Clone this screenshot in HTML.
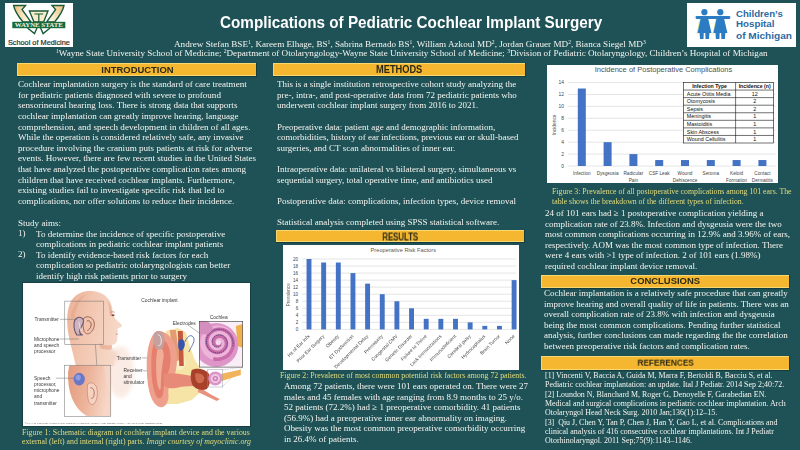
<!DOCTYPE html>
<html><head><meta charset="utf-8">
<style>
*{margin:0;padding:0;box-sizing:border-box}
html,body{width:800px;height:450px;overflow:hidden}
body{background:#1f5257;position:relative;-webkit-font-smoothing:antialiased;font-family:"Liberation Serif",serif;color:#f6f6f2}
.a{position:absolute}
.t{position:absolute;will-change:transform;font-family:"Liberation Serif",serif;font-size:9px;line-height:10.5px;white-space:pre;color:#f4f4ef}
.bar{position:absolute;background:#f4b72f;border-top:1px solid #f8d872;border-bottom:1px solid #f8d872;border-left:0.8px solid #f6d670;box-shadow:0 0 0.5px 0.5px rgba(8,35,30,0.45);font-family:"Liberation Sans",sans-serif;font-weight:bold;color:#2c2a16;text-align:center;font-size:9.26px;letter-spacing:0}
.bar span{display:inline-block;position:relative;will-change:transform}
.cap{position:absolute;will-change:transform;font-family:"Liberation Serif",serif;font-size:7.8px;white-space:pre;color:#e4dc7c}
.sp{position:relative;top:-3.4px;font-size:5.6px;line-height:0}
.wbox{position:absolute;background:#fff}
</style></head><body>

<!-- Wayne State logo -->
<div class="wbox" style="left:5px;top:3px;width:68px;height:44px"></div>
<svg class="a" style="left:5px;top:3px" width="68" height="44" viewBox="0 0 68 44">
  <defs><linearGradient id="wg" x1="0" y1="0" x2="1" y2="0.3"><stop offset="0" stop-color="#efb877"/><stop offset="0.5" stop-color="#f6dcae"/><stop offset="1" stop-color="#fdf6e8"/></linearGradient>
  <linearGradient id="wg2" x1="1" y1="0" x2="0" y2="0.3"><stop offset="0" stop-color="#efb877"/><stop offset="0.5" stop-color="#f6dcae"/><stop offset="1" stop-color="#fdf6e8"/></linearGradient></defs>
  <g transform="translate(-5,-3)" stroke="#165a38" stroke-width="1.35" stroke-linejoin="miter">
    <path d="M13.6 5.5 L25.6 5.5 L22 9.5 L31 22 L23 22 C18 16 14.5 10 13.6 5.5 Z" fill="url(#wg)"/>
    <path d="M64 5.5 L52 5.5 L55.6 9.5 L46.6 22 L54.6 22 C59.6 16 63.1 10 64 5.5 Z" fill="url(#wg2)"/>
    <path d="M29.4 11 L48 11 L43.6 22 L34 22 Z" fill="#f8eccc"/>
    <path d="M34.4 14 L43.2 14 M38.8 14 L38.8 22" fill="none" stroke-width="1.2"/>
    <path d="M27.5 28 L34.5 33.6 L37 28" fill="#fff"/>
    <path d="M40.6 28 L43.1 33.6 L50.1 28" fill="#fff"/>
  </g>
  <rect x="7.3" y="18.8" width="53" height="6.4" fill="#176a3e"/>
  <text x="33.8" y="24.4" text-anchor="middle" font-family="Liberation Serif" font-weight="bold" font-size="6.2" fill="#eef0e0" textLength="48" lengthAdjust="spacingAndGlyphs">WAYNE STATE</text>
  <text x="33.9" y="41.9" text-anchor="middle" font-family="Liberation Sans" font-size="6.4" fill="#1e2a28" stroke="#1e2a28" stroke-width="0.15" textLength="62" lengthAdjust="spacingAndGlyphs">School of Medicine</text>
</svg>

<!-- Children's Hospital logo -->
<div class="wbox" style="left:687px;top:3px;width:109px;height:43.5px"></div>
<svg class="a" style="left:687px;top:3px" width="109" height="44" viewBox="0 0 109 44">
  <g stroke="#cfe07a" stroke-width="0.9" opacity="0.9"><line x1="10" y1="31" x2="13.5" y2="15"/><line x1="26" y1="31" x2="29.5" y2="15"/></g>
  <g stroke="#9fd0ef" stroke-width="0.8" opacity="0.8"><line x1="7.5" y1="14" x2="44" y2="14"/></g>
  <g fill="#2b7cc2">
    <rect x="8.7" y="13.1" width="34.5" height="2.8" rx="1"/>
    <circle cx="17.4" cy="9.2" r="3.1"/>
    <circle cx="33.3" cy="9.2" r="3.1"/>
    <path d="M14 14 L20.8 14 L24.5 30 L10.5 30 Z"/>
    <path d="M29.9 14 L36.7 14 L40.4 30 L26.4 30 Z"/>
    <path d="M12.5 29 L16.8 29 L16.5 36 L13 36 Z"/><path d="M18.2 29 L22.5 29 L22 36 L18.5 36 Z"/>
    <path d="M28.4 29 L32.7 29 L32.4 36 L28.9 36 Z"/><path d="M34.1 29 L38.4 29 L37.9 36 L34.4 36 Z"/>
  </g>
  <g font-family="Liberation Sans" font-weight="bold" font-size="9.6" fill="#2d6aa3">
    <text x="49" y="13.7" textLength="46.8" lengthAdjust="spacingAndGlyphs">Children’s</text>
    <text x="49" y="24" textLength="38.5" lengthAdjust="spacingAndGlyphs">Hospital</text>
    <text x="49" y="35.8" textLength="56" lengthAdjust="spacingAndGlyphs">of Michigan</text>
  </g>
</svg>

<!-- Title -->
<div class="a" style="left:219.5px;top:13.9px;font-family:'Liberation Sans',sans-serif;font-weight:bold;font-size:15.25px;line-height:18px;color:#fff;white-space:pre;will-change:transform;transform:scaleY(1.04);transform-origin:0 14px">Complications of Pediatric Cochlear Implant Surgery</div>
<div class="t" style="left:174.2px;top:39.2px;font-size:9.15px">Andrew Stefan BSE<span class="sp">1</span>, Kareem Elhage, BS<span class="sp">1</span>, Sabrina Bernado BS<span class="sp">1</span>, William Azkoul MD<span class="sp">2</span>, Jordan Grauer MD<span class="sp">2</span>, Bianca Siegel MD<span class="sp">3</span></div>
<div class="t" style="left:55.6px;top:48px;font-size:9.1px"><span class="sp">1</span>Wayne State University School of Medicine; <span class="sp">2</span>Department of Otolaryngology-Wayne State University School of Medicine; <span class="sp">3</span>Division of Pediatric Otolaryngology, Children’s Hospital of Michigan</div>

<!-- Section bars -->
<div class="bar" style="left:17px;top:62.5px;width:239px;height:13.1px;line-height:11px"><span style="top:1.3px;transform:scale(1.02,1.06)">INTRODUCTION</span></div>
<div class="bar" style="left:273px;top:62.5px;width:251.5px;height:13.1px;line-height:11px"><span style="top:1.3px;transform:scale(1,1.08)">METHODS</span></div>
<div class="bar" style="left:275.5px;top:230.2px;width:248px;height:11.8px;line-height:10px"><span style="top:0.5px;transform:scale(0.84,1.1)">RESULTS</span></div>
<div class="bar" style="left:541px;top:274.6px;width:248px;height:13px;line-height:11.2px"><span style="top:0.3px;transform:scale(1.02,1.04)">CONCLUSIONS</span></div>
<div class="bar" style="left:541px;top:356.2px;width:248px;height:13.4px;line-height:11.6px"><span style="top:1.2px;transform:scale(0.89,1.06)">REFERENCES</span></div>

<!-- Intro text -->
<div class="t" style="left:17.8px;top:78.7px;font-size:9.08px;line-height:10.64px">Cochlear implantation surgery is the standard of care treatment
for pediatric patients diagnosed with severe to profound
sensorineural hearing loss. There is strong data that supports
cochlear implantation can greatly improve hearing, language
comprehension, and speech development in children of all ages.
While the operation is considered relatively safe, any invasive
procedure involving the cranium puts patients at risk for adverse
events. However, there are few recent studies in the United States
that have analyzed the postoperative complication rates among
children that have received cochlear implants. Furthermore,
existing studies fail to investigate specific risk that led to
complications, nor offer solutions to reduce their incidence.</div>
<div class="t" style="left:17.8px;top:218.4px;font-size:9.05px;line-height:10.45px">Study aims:
1)
 
2)</div>
<div class="t" style="left:36.1px;top:228.9px;font-size:9.05px;line-height:10.45px">To determine the incidence of specific postoperative
complications in pediatric cochlear implant patients
To identify evidence-based risk factors for each
complication so pediatric otolaryngologists can better
identify high risk patients prior to surgery</div>

<!-- Figure 1 image -->
<div class="wbox" style="left:23px;top:282.5px;width:226.7px;height:143.3px;box-shadow:0 0 0.6px 0.6px rgba(8,35,30,0.4)"></div>
<svg class="a" style="left:23.2px;top:283px" width="227" height="143" viewBox="0 0 227 143" id="fig1">
<defs>
<filter id="bl" x="-10%" y="-10%" width="120%" height="120%"><feGaussianBlur stdDeviation="0.55"/></filter>
<filter id="bl2" x="-30%" y="-30%" width="160%" height="160%"><feGaussianBlur stdDeviation="2"/></filter>
<linearGradient id="skinA" x1="0" y1="0" x2="1" y2="0.3"><stop offset="0" stop-color="#eab095"/><stop offset="0.45" stop-color="#f2c6b0"/><stop offset="1" stop-color="#f6d8c8"/></linearGradient>
<linearGradient id="skinB" x1="0" y1="0" x2="1" y2="0.2"><stop offset="0" stop-color="#e29a7e"/><stop offset="0.55" stop-color="#edb59c"/><stop offset="1" stop-color="#f6d6c6"/></linearGradient>
</defs>
<g transform="translate(-23.2,-283)">
<!-- shoulder glow -->
<ellipse cx="121" cy="372" rx="13" ry="26" fill="#faebe4" filter="url(#bl2)"/>
<ellipse cx="98" cy="356" rx="20" ry="10" fill="#f4d4c4" filter="url(#bl2)"/>
<!-- upper head -->
<g filter="url(#bl)">
<path d="M76 366 C74 356 71 346 69 336 C66.5 323 66.5 309 72 300 C77 293 84 290.8 91 291 C100 291.5 107 295 110.5 302 C112.5 306 112.8 310 113 314 C114 317 116 320 119 322 C121.5 324 123 325.5 121.5 327 C120 328 118 328 117.5 329.5 C118.5 331 118 333 117 334 C118 336 117.5 338 117.5 340 C117 343 115 344.5 112 345 C111.5 350 112 356 114 362 L115 366 Z" fill="url(#skinA)"/>
<path d="M71 318 C72 306 78 297 88 293.5 C81 298 76 306 75 318 Z" fill="#e39d82" opacity="0.45"/>
<path d="M108 300 C111 305 112 311 112.5 315 L110 316 C110 310 109 305 108 300 Z" fill="#e6a78e" opacity="0.7"/>
<path d="M112 345 C108 346 103 345 100 343 L100 348 C104 350 109 350 112 349 Z" fill="#e2a48b" opacity="0.6"/>
<ellipse cx="113.2" cy="315.3" rx="1.6" ry="1" fill="#8a4a3a"/>
<path d="M110.5 312.5 C112 311.5 114 311.6 115 312.4" stroke="#b87a66" stroke-width="0.7" fill="none"/>
<path d="M116 334.2 L118.2 334" stroke="#b0604f" stroke-width="0.6"/>
<!-- ear upper -->
<path d="M84 318 C88 315.5 93 317 94.3 322 C95.3 327 93 331.5 89.5 333.5 C87 334.5 84.5 333 84 330 C83 326 83 321 84 318 Z" fill="#f2c2ac" stroke="#94604f" stroke-width="0.9"/>
<path d="M87 321 C89.5 320 91.5 322 91.3 325 C91 328.5 89 330 87.5 330.5" stroke="#8a5545" stroke-width="0.9" fill="none"/>
<!-- transmitter -->
<path d="M76.5 318.5 C79 316.5 83 317 83.7 320.5 C84.2 324 81 327 80 330 C79.5 332.5 81 334.5 83 335 L77 335 C75 332 74 328 74.2 324 C74.3 321.5 75 319.5 76.5 318.5 Z" fill="#cdb3bd" stroke="#6c5670" stroke-width="1.1"/>
<path d="M79 322 L81 331" stroke="#f0e6f0" stroke-width="0.8"/>
</g>
<!-- lower inset skin -->
<g filter="url(#bl)">
<path d="M69.5 365.5 L111 365.5 L111 416 L87 416 C80 412 75 405 72 398 C69 390 67.8 380 68.3 372 Z" fill="url(#skinB)"/>
<path d="M104 366 C106 380 108 395 111 405 L111 366 Z" fill="#f5d6c7" opacity="0.8"/>
<path d="M88 384 C92 381 97 384 97.5 391 C98 398 96 403 93 404.5 C90 405 88.5 401.5 88 397 C87.5 392 87 388 88 384 Z" fill="#f6d2c0" stroke="#c7836d" stroke-width="0.7"/>
<path d="M90.5 388 C93 387 94.8 390 94.3 394.5 C93.8 398 92.2 399 91 398" stroke="#a86a57" stroke-width="0.9" fill="none"/>
</g>
<ellipse cx="79.4" cy="379.1" rx="5.7" ry="6.3" fill="#6977c6" filter="url(#bl)"/>
<ellipse cx="78.4" cy="377.6" rx="2.6" ry="2.8" fill="#8f9ce0" filter="url(#bl)"/>
<!-- boxes and leader lines -->
<g stroke="#6e6e6e" stroke-width="0.5" fill="none">
<rect x="65" y="301.1" width="38.9" height="43.4"/>
<rect x="64.8" y="365.2" width="46.2" height="51.1"/>
<line x1="60" y1="319.3" x2="77" y2="319.3"/>
<line x1="60" y1="339" x2="79" y2="339"/>
<line x1="95.6" y1="344.5" x2="97" y2="365.2"/>
<line x1="56" y1="378.2" x2="74" y2="378.2"/>
<line x1="142" y1="357.9" x2="153" y2="357.9"/>
<line x1="143" y1="370.8" x2="170" y2="370.8"/>
<line x1="188" y1="325" x2="199.6" y2="333"/>
<line x1="222.3" y1="370" x2="242.9" y2="367.1" stroke-dasharray="0.8,0.8" stroke="#8888aa"/>
<line x1="222.3" y1="386.8" x2="242.9" y2="367.1" stroke-dasharray="0.8,0.8" stroke="#8888aa"/>
</g>
<!-- right: ear -->
<g filter="url(#bl)">
<!-- yellow bone -->
<path d="M166 331 L178 328 L186 332 L190 346 L195 360 L201 369 L203 390 L192 400 L178 404 L166 404 L164 390 L170 376 L168 360 L170 345 Z" fill="#f6e3a6"/>
<path d="M174 352 C180 350 186 356 186 364 C184 370 178 372 174 368 Z" fill="#f9edc4"/>
<!-- skin+skull layers -->
<path d="M170 330 L176 330 L180 360 L174 362 Z" fill="#e49a72"/>
<path d="M178 331 L183 331 L184 366 L179.5 366 Z" fill="#c4593f"/>
<!-- pinna -->
<path d="M157 331 C151 335 148 345 147 360 C146.5 375 148 390 152 399 C155 405 159 408 163 407 C167 405.5 169.5 400 168.5 393 C168 388 171 383 174 377 C178 368 178 355 175 345 C172 337 166 330 157 331 Z" fill="#efa08c"/>
<path d="M157 338 C153 343 151.5 352 151.5 364 C151.5 378 153 390 157 397 C160 400 163 398 163.5 392 C164 386 165 380 168 374 C171 366 172 356 169 347 C166 340 161 336 157 338 Z" fill="#e5806e"/>
<path d="M158 348 C156 356 156 368 157 380 C158 388 160 392 161 388 C161 378 162 366 164 356 C164 350 161 345 158 348 Z" fill="#f1ad98"/>
<!-- transmitter disc -->
<path d="M154.5 333 C157.5 330 162.5 331 164 335 C165.5 340 164.5 346 162 349 C159 351 155.5 349 154.5 345 C153.5 341 153 336 154.5 333 Z" fill="#c4a09e"/>
<path d="M158 335 C160 334.5 161.5 337 161.5 341 C161.5 344 160 346 158.5 345.5" stroke="#f3ece8" stroke-width="1" fill="none"/>
<!-- canal -->
<path d="M164 374 C172 372 182 374 192 376 L200 379 L199 386 C192 386 184 386 176 388 C170 389 165 388 164 384 Z" fill="#e88a78"/>
<path d="M199 387 L212 395 L220 399 L217 401 L198 392 Z" fill="#e8937e"/>
<!-- middle ear -->
<path d="M192 370 C197 367.5 205 369 208.5 373 C211.5 377.5 210.5 385 207 389 C202 391 196 389.5 193 385.5 C190.5 381 190.5 374 192 370 Z" fill="#a8402a"/>
<path d="M195.5 373.5 C199 372.5 203.5 374 204.5 377.5 C204.5 381.5 202 384 198.5 383 C196 382 195 378 195.5 373.5 Z" fill="#cf6a50"/>
<!-- small cochlea -->
<circle cx="215.5" cy="378.5" r="7" fill="#da94c6"/>
<circle cx="215.5" cy="378.5" r="4.6" fill="#f1c6e3"/>
<circle cx="215.5" cy="378.5" r="2.6" fill="#c978b3"/>
<circle cx="215.5" cy="378.5" r="1.2" fill="#f1c6e3"/>
<!-- nerve -->
<path d="M221 374 L241 369.5 L241 375 L222 381 Z" fill="#f1b45c"/>
<!-- implant -->
<path d="M179 340 C182 338 185 340 185 344 C185 348.5 182 351.5 180 350.5 C178 348.5 178 343 179 340 Z" fill="#3954ab"/>
</g>
<path d="M185 342 C188 335 192 334 194 338 C195.5 342 191 347 189 352" stroke="#3d5ab0" stroke-width="0.8" fill="none"/>
<rect x="208" y="369.5" width="15" height="17.5" fill="none" stroke="#9090a8" stroke-width="0.45"/>
<!-- cochlea inset -->
<rect x="199.6" y="321.3" width="43.3" height="45.8" fill="#f9eef5"/>
<clipPath id="cbox"><rect x="199.6" y="321.3" width="43.3" height="45.8"/></clipPath>
<g clip-path="url(#cbox)">
<g filter="url(#bl)">
<path d="M236 326 L243 324 L243 348 L238 346 Z" fill="#f0b04c"/>
<circle cx="216.5" cy="345" r="22" fill="#de96c8"/>
<circle cx="218" cy="343" r="17.5" fill="#eeb5da"/>
<path d="M219.93 342.94 L219.99 343.16 L220.01 343.40 L220.00 343.65 L219.95 343.91 L219.85 344.17 L219.72 344.42 L219.54 344.67 L219.32 344.90 L219.06 345.10 L218.76 345.28 L218.43 345.42 L218.07 345.52 L217.68 345.57 L217.28 345.57 L216.86 345.52 L216.44 345.41 L216.03 345.25 L215.63 345.03 L215.24 344.74 L214.89 344.41 L214.57 344.01 L214.29 343.57 L214.07 343.09 L213.90 342.57 L213.80 342.01 L213.76 341.43 L213.80 340.84 L213.91 340.24 L214.10 339.65 L214.36 339.07 L214.71 338.51 L215.12 337.99 L215.61 337.51 L216.17 337.09 L216.78 336.73 L217.45 336.44 L218.16 336.23 L218.91 336.10 L219.68 336.07 L220.47 336.13 L221.26 336.29 L222.03 336.54 L222.79 336.90 L223.51 337.35 L224.18 337.89 L224.79 338.52 L225.33 339.23 L225.79 340.02 L226.16 340.86 L226.42 341.76 L226.58 342.70 L226.63 343.67 L226.56 344.65 L226.38 345.63 L226.07 346.60 L225.64 347.53 L225.09 348.42 L224.44 349.25 L223.67 350.01 L222.82 350.68 L221.87 351.25 L220.85 351.71 L219.77 352.05 L218.64 352.27 L217.48 352.34 L216.30 352.28 L215.12 352.08 L213.96 351.73 L212.84 351.24 L211.77 350.61 L210.77 349.85 L209.85 348.97 L209.04 347.97 L208.34 346.88 L207.78 345.69 L207.35 344.43 L207.07 343.11 L206.95 341.76 L206.99 340.38 L207.20 339.00 L207.57 337.65 L208.10 336.33 L208.80 335.07 L209.64 333.89 L210.64 332.81 L211.76 331.84 L213.00 331.01 L214.35 330.32 L215.78 329.79 L217.29 329.43 L218.83 329.25 L220.41 329.25 L221.98 329.44 L223.54 329.82 L225.06 330.39 L226.51 331.14 L227.88 332.06 L229.13 333.15 L230.27 334.39 L231.25 335.77 L232.07 337.27 L232.72 338.87 L233.18 340.55 L233.43 342.29 L233.48 344.06 L233.32 345.84 L232.95 347.60 L232.36 349.32 L231.57 350.97 L230.59 352.53 L229.41 353.98 L228.07 355.28 L226.56 356.43 L224.92 357.40 L223.16 358.18 L221.31 358.74 L219.39 359.09 L217.42 359.21 L215.44 359.09 L213.48 358.74" fill="none" stroke="#c96ca9" stroke-width="3.6"/>
<circle cx="218.5" cy="342.5" r="2.6" fill="#f6d6eb"/>
<path d="M199 321 C205 319 212 322 213 328 C212 334 205 336 200 333 Z" fill="#d58fbf"/>
</g>
<path d="M220.99 345.63 L220.71 345.94 L220.40 346.23 L220.06 346.48 L219.68 346.71 L219.27 346.89 L218.84 347.04 L218.38 347.14 L217.91 347.20 L217.43 347.20 L216.93 347.16 L216.44 347.07 L215.95 346.92 L215.47 346.72 L215.01 346.47 L214.56 346.16 L214.15 345.81 L213.76 345.41 L213.41 344.96 L213.11 344.48 L212.85 343.95 L212.64 343.40 L212.49 342.82 L212.40 342.22 L212.37 341.60 L212.40 340.97 L212.49 340.34 L212.65 339.72 L212.88 339.10 L213.17 338.51 L213.53 337.93 L213.95 337.39 L214.42 336.89 L214.95 336.44 L215.53 336.03 L216.16 335.68 L216.83 335.39 L217.53 335.17 L218.26 335.02 L219.01 334.94 L219.77 334.94 L220.54 335.02 L221.31 335.17 L222.06 335.40 L222.80 335.71 L223.51 336.10 L224.18 336.57 L224.81 337.10 L225.39 337.70 L225.92 338.37 L226.38 339.09 L226.76 339.86 L227.07 340.67 L227.30 341.52 L227.45 342.40 L227.51 343.30 L227.47 344.21 L227.35 345.11 L227.13 346.02 L226.82 346.90 L226.42 347.75 L225.93 348.57 L225.35 349.34 L224.70 350.06 L223.96 350.71 L223.16 351.30 L222.30 351.80 L221.39 352.22 L220.42 352.55 L219.42 352.78 L218.40 352.92 L217.35 352.95 L216.30 352.87 L215.26 352.69 L214.22 352.40 L213.22 352.01 L212.25 351.51 L211.32 350.91 L210.46 350.22 L209.66 349.44 L208.93 348.58 L208.30 347.64 L207.75 346.63 L207.30 345.57 L206.96 344.46 L206.74 343.31 L206.62 342.13 L206.63 340.94 L206.75 339.75 L206.99 338.57 L207.36 337.41 L207.84 336.28 L208.44 335.20 L209.14 334.17 L209.95 333.22 L210.86 332.34 L211.86 331.56 L212.94 330.87 L214.09 330.29 L215.31 329.82 L216.57 329.48 L217.87 329.26 L219.19 329.17 L220.53 329.21 L221.86 329.39 L223.17 329.70 L224.46 330.15 L225.71 330.72 L226.90 331.42 L228.02 332.24 L229.06 333.18 L230.01 334.22 L230.85 335.36 L231.58 336.58 L232.19 337.88 L232.67 339.25 L233.02 340.66 L233.22 342.11 L233.28 343.58 L233.19 345.05 L232.95 346.53" fill="none" stroke="#3c3f75" stroke-width="0.85" stroke-dasharray="1.4,0.8"/>
</g>
<rect x="199.6" y="321.3" width="43.3" height="45.8" fill="none" stroke="#3a3a3a" stroke-width="0.6"/>
<!-- labels -->
<g font-family="Liberation Sans" font-size="4.85" fill="#3a3a3a">
<text x="34.7" y="320.9">Transmitter</text>
<text x="34.3" y="340.6">Microphone</text>
<text x="34.3" y="346.9">and speech</text>
<text x="34.3" y="353.2">processor</text>
<text x="34.3" y="379.8">Speech</text>
<text x="34.3" y="386">processor,</text>
<text x="34.3" y="392.2">microphone</text>
<text x="34.3" y="398.4">and</text>
<text x="34.3" y="404.6">transmitter</text>
<text x="141.5" y="302.3">Cochlear implant</text>
<text x="117" y="359.5">Transmitter</text>
<text x="123.7" y="372.4">Receiver</text>
<text x="123.7" y="378.1">and</text>
<text x="123.7" y="384.1">stimulator</text>
<text x="173" y="325">Electrodes</text>
<text x="210" y="319">Cochlea</text>
</g>
<text x="25" y="424.3" font-family="Liberation Sans" font-size="2.3" fill="#777" textLength="138" lengthAdjust="spacingAndGlyphs">©MAYO FOUNDATION FOR MEDICAL EDUCATION AND RESEARCH. ALL RIGHTS RESERVED.</text>
</g>

</svg>
<div class="cap" style="left:21.7px;top:428.8px;line-height:8.7px"><span style="letter-spacing:0.045px">Figure 1: Schematic diagram of cochlear implant device and the various</span>
external (left) and internal (right) parts. <i>Image courtesy of mayoclinic.org</i></div>

<!-- Methods text -->
<div class="t" style="left:276.5px;top:78.5px">This is a single institution retrospective cohort study analyzing the
pre-, intra-, and post-operative data from 72 pediatric patients who
underwent cochlear implant surgery from 2016 to 2021.</div>
<div class="t" style="left:276.5px;top:121.5px;line-height:10.4px">Preoperative data: patient age and demographic information,
comorbidities, history of ear infections, previous ear or skull-based
surgeries, and CT scan abnormalities of inner ear.</div>
<div class="t" style="left:276.5px;top:163.5px;line-height:10.6px">Intraoperative data: unilateral vs bilateral surgery, simultaneous vs
sequential surgery, total operative time, and antibiotics used</div>
<div class="t" style="left:276.5px;top:195.5px">Postoperative data: complications, infection types, device removal</div>
<div class="t" style="left:276.5px;top:217.2px">Statistical analysis completed using SPSS statistical software.</div>

<!-- Chart 2 -->
<div class="wbox" style="left:283px;top:245.2px;width:236.2px;height:124.8px"></div>
<svg class="a" style="left:283px;top:245.2px" width="237" height="125" viewBox="0 0 237 125" id="ch2">
<text x="120.3" y="7.1" text-anchor="middle" font-family="Liberation Sans" font-size="5.7" fill="#595959">Preoperative Risk Factors</text>
<line x1="18.8" x2="233" y1="84.40" y2="84.40" stroke="#d4d4d4" stroke-width="0.6"/>
<text x="15.2" y="86.00" text-anchor="end" font-family="Liberation Sans" font-size="4.6" fill="#444">0</text>
<line x1="18.8" x2="233" y1="77.36" y2="77.36" stroke="#d4d4d4" stroke-width="0.6"/>
<text x="15.2" y="78.96" text-anchor="end" font-family="Liberation Sans" font-size="4.6" fill="#444">2</text>
<line x1="18.8" x2="233" y1="70.32" y2="70.32" stroke="#d4d4d4" stroke-width="0.6"/>
<text x="15.2" y="71.92" text-anchor="end" font-family="Liberation Sans" font-size="4.6" fill="#444">4</text>
<line x1="18.8" x2="233" y1="63.28" y2="63.28" stroke="#d4d4d4" stroke-width="0.6"/>
<text x="15.2" y="64.88" text-anchor="end" font-family="Liberation Sans" font-size="4.6" fill="#444">6</text>
<line x1="18.8" x2="233" y1="56.24" y2="56.24" stroke="#d4d4d4" stroke-width="0.6"/>
<text x="15.2" y="57.84" text-anchor="end" font-family="Liberation Sans" font-size="4.6" fill="#444">8</text>
<line x1="18.8" x2="233" y1="49.20" y2="49.20" stroke="#d4d4d4" stroke-width="0.6"/>
<text x="15.2" y="50.80" text-anchor="end" font-family="Liberation Sans" font-size="4.6" fill="#444">10</text>
<line x1="18.8" x2="233" y1="42.16" y2="42.16" stroke="#d4d4d4" stroke-width="0.6"/>
<text x="15.2" y="43.76" text-anchor="end" font-family="Liberation Sans" font-size="4.6" fill="#444">12</text>
<line x1="18.8" x2="233" y1="35.12" y2="35.12" stroke="#d4d4d4" stroke-width="0.6"/>
<text x="15.2" y="36.72" text-anchor="end" font-family="Liberation Sans" font-size="4.6" fill="#444">14</text>
<line x1="18.8" x2="233" y1="28.08" y2="28.08" stroke="#d4d4d4" stroke-width="0.6"/>
<text x="15.2" y="29.68" text-anchor="end" font-family="Liberation Sans" font-size="4.6" fill="#444">16</text>
<line x1="18.8" x2="233" y1="21.04" y2="21.04" stroke="#d4d4d4" stroke-width="0.6"/>
<text x="15.2" y="22.64" text-anchor="end" font-family="Liberation Sans" font-size="4.6" fill="#444">18</text>
<line x1="18.8" x2="233" y1="14.00" y2="14.00" stroke="#d4d4d4" stroke-width="0.6"/>
<text x="15.2" y="15.60" text-anchor="end" font-family="Liberation Sans" font-size="4.6" fill="#444">20</text>
<text transform="translate(6.6,49.8) rotate(-90)" text-anchor="middle" font-family="Liberation Sans" font-size="4.6" fill="#595959">Prevalence</text>
<rect x="23.55" y="14.00" width="4.9" height="70.40" fill="#4472c4"/>
<text transform="translate(27.00,91.60) rotate(-45)" text-anchor="end" font-family="Liberation Sans" font-size="4.8" fill="#4a4a4a">Hx of Ear Infx</text>
<rect x="38.20" y="17.52" width="4.9" height="66.88" fill="#4472c4"/>
<text transform="translate(41.65,91.60) rotate(-45)" text-anchor="end" font-family="Liberation Sans" font-size="4.8" fill="#4a4a4a">Prior Ear Surgery</text>
<rect x="52.85" y="17.52" width="4.9" height="66.88" fill="#4472c4"/>
<text transform="translate(56.30,91.60) rotate(-45)" text-anchor="end" font-family="Liberation Sans" font-size="4.8" fill="#4a4a4a">Obesity</text>
<rect x="67.50" y="28.08" width="4.9" height="56.32" fill="#4472c4"/>
<text transform="translate(70.95,91.60) rotate(-45)" text-anchor="end" font-family="Liberation Sans" font-size="4.8" fill="#4a4a4a">ET Dysfunction</text>
<rect x="82.15" y="38.64" width="4.9" height="45.76" fill="#4472c4"/>
<text transform="translate(85.60,91.60) rotate(-45)" text-anchor="end" font-family="Liberation Sans" font-size="4.8" fill="#4a4a4a">Developmental Delay</text>
<rect x="96.80" y="49.20" width="4.9" height="35.20" fill="#4472c4"/>
<text transform="translate(100.25,91.60) rotate(-45)" text-anchor="end" font-family="Liberation Sans" font-size="4.8" fill="#4a4a4a">Prematurity</text>
<rect x="111.45" y="56.24" width="4.9" height="28.16" fill="#4472c4"/>
<text transform="translate(114.90,91.60) rotate(-45)" text-anchor="end" font-family="Liberation Sans" font-size="4.8" fill="#4a4a4a">Congenital CMV</text>
<rect x="126.10" y="63.28" width="4.9" height="21.12" fill="#4472c4"/>
<text transform="translate(129.55,91.60) rotate(-45)" text-anchor="end" font-family="Liberation Sans" font-size="4.8" fill="#4a4a4a">Genetic Disorder</text>
<rect x="140.75" y="73.84" width="4.9" height="10.56" fill="#4472c4"/>
<text transform="translate(144.20,91.60) rotate(-45)" text-anchor="end" font-family="Liberation Sans" font-size="4.8" fill="#4a4a4a">Failure to Thrive</text>
<rect x="155.40" y="73.84" width="4.9" height="10.56" fill="#4472c4"/>
<text transform="translate(158.85,91.60) rotate(-45)" text-anchor="end" font-family="Liberation Sans" font-size="4.8" fill="#4a4a4a">Lack Immunizations</text>
<rect x="170.05" y="73.84" width="4.9" height="10.56" fill="#4472c4"/>
<text transform="translate(173.50,91.60) rotate(-45)" text-anchor="end" font-family="Liberation Sans" font-size="4.8" fill="#4a4a4a">Immunodeficient</text>
<rect x="184.70" y="77.36" width="4.9" height="7.04" fill="#4472c4"/>
<text transform="translate(188.15,91.60) rotate(-45)" text-anchor="end" font-family="Liberation Sans" font-size="4.8" fill="#4a4a4a">Cerebral palsy</text>
<rect x="199.35" y="80.88" width="4.9" height="3.52" fill="#4472c4"/>
<text transform="translate(202.80,91.60) rotate(-45)" text-anchor="end" font-family="Liberation Sans" font-size="4.8" fill="#4a4a4a">Hydrocephalus</text>
<rect x="214.00" y="80.88" width="4.9" height="3.52" fill="#4472c4"/>
<text transform="translate(217.45,91.60) rotate(-45)" text-anchor="end" font-family="Liberation Sans" font-size="4.8" fill="#4a4a4a">Brain Tumor</text>
<rect x="228.65" y="35.12" width="4.9" height="49.28" fill="#4472c4"/>
<text transform="translate(232.10,91.60) rotate(-45)" text-anchor="end" font-family="Liberation Sans" font-size="4.8" fill="#4a4a4a">None</text>
</svg>
<div class="cap" style="left:280px;top:371.5px;line-height:8.7px">Figure 2: Prevalence of most common potential risk factors among 72 patients.</div>

<!-- Results text -->
<div class="t" style="left:284px;top:381.4px;line-height:10.6px">Among 72 patients, there were 101 ears operated on. There were 27
males and 45 females with age ranging from 8.9 months to 25 y/o.
52 patients (72.2%) had ≥ 1 preoperative comorbidity. 41 patients
(56.9%) had a preoperative inner ear abnormality on imaging.
Obesity was the most common preoperative comorbidity occurring
in 26.4% of patients.</div>

<!-- Chart 3 -->
<div class="wbox" style="left:546.8px;top:64.7px;width:231.7px;height:118.8px"></div>
<svg class="a" style="left:546.8px;top:64.7px" width="232" height="119" viewBox="0 0 232 119" id="ch3">
<text x="47.7" y="7.4" font-family="Liberation Sans" font-size="7.5" fill="#505050">Incidence of Postoperative Complications</text>
<line x1="21.4" x2="228.5" y1="101.00" y2="101.00" stroke="#d4d4d4" stroke-width="0.6"/>
<text x="17" y="102.70" text-anchor="end" font-family="Liberation Sans" font-size="4.9" fill="#444">0</text>
<line x1="21.4" x2="228.5" y1="89.08" y2="89.08" stroke="#d4d4d4" stroke-width="0.6"/>
<text x="17" y="90.78" text-anchor="end" font-family="Liberation Sans" font-size="4.9" fill="#444">2</text>
<line x1="21.4" x2="228.5" y1="77.16" y2="77.16" stroke="#d4d4d4" stroke-width="0.6"/>
<text x="17" y="78.86" text-anchor="end" font-family="Liberation Sans" font-size="4.9" fill="#444">4</text>
<line x1="21.4" x2="228.5" y1="65.24" y2="65.24" stroke="#d4d4d4" stroke-width="0.6"/>
<text x="17" y="66.94" text-anchor="end" font-family="Liberation Sans" font-size="4.9" fill="#444">6</text>
<line x1="21.4" x2="228.5" y1="53.32" y2="53.32" stroke="#d4d4d4" stroke-width="0.6"/>
<text x="17" y="55.02" text-anchor="end" font-family="Liberation Sans" font-size="4.9" fill="#444">8</text>
<line x1="21.4" x2="228.5" y1="41.40" y2="41.40" stroke="#d4d4d4" stroke-width="0.6"/>
<text x="17" y="43.10" text-anchor="end" font-family="Liberation Sans" font-size="4.9" fill="#444">10</text>
<line x1="21.4" x2="228.5" y1="29.48" y2="29.48" stroke="#d4d4d4" stroke-width="0.6"/>
<text x="17" y="31.18" text-anchor="end" font-family="Liberation Sans" font-size="4.9" fill="#444">12</text>
<line x1="21.4" x2="228.5" y1="17.56" y2="17.56" stroke="#d4d4d4" stroke-width="0.6"/>
<text x="17" y="19.26" text-anchor="end" font-family="Liberation Sans" font-size="4.9" fill="#444">14</text>
<text transform="translate(9.3,59.9) rotate(-90)" text-anchor="middle" font-family="Liberation Sans" font-size="4.9" fill="#595959">Incidence</text>
<rect x="30.80" y="23.52" width="8" height="77.48" fill="#4472c4"/>
<text x="34.80" y="109.60" text-anchor="middle" font-family="Liberation Sans" font-size="4.7" fill="#444">Infection</text>
<rect x="56.60" y="77.16" width="8" height="23.84" fill="#4472c4"/>
<text x="60.60" y="109.60" text-anchor="middle" font-family="Liberation Sans" font-size="4.7" fill="#444">Dysgeusia</text>
<rect x="82.40" y="89.08" width="8" height="11.92" fill="#4472c4"/>
<text x="86.40" y="109.60" text-anchor="middle" font-family="Liberation Sans" font-size="4.7" fill="#444">Radicular</text>
<text x="86.40" y="116.50" text-anchor="middle" font-family="Liberation Sans" font-size="4.7" fill="#444">Pain</text>
<rect x="108.20" y="95.04" width="8" height="5.96" fill="#4472c4"/>
<text x="112.20" y="109.60" text-anchor="middle" font-family="Liberation Sans" font-size="4.7" fill="#444">CSF Leak</text>
<rect x="134.00" y="95.04" width="8" height="5.96" fill="#4472c4"/>
<text x="138.00" y="109.60" text-anchor="middle" font-family="Liberation Sans" font-size="4.7" fill="#444">Wound</text>
<text x="138.00" y="116.50" text-anchor="middle" font-family="Liberation Sans" font-size="4.7" fill="#444">Dehiscence</text>
<rect x="159.80" y="95.04" width="8" height="5.96" fill="#4472c4"/>
<text x="163.80" y="109.60" text-anchor="middle" font-family="Liberation Sans" font-size="4.7" fill="#444">Seroma</text>
<rect x="185.60" y="95.04" width="8" height="5.96" fill="#4472c4"/>
<text x="189.60" y="109.60" text-anchor="middle" font-family="Liberation Sans" font-size="4.7" fill="#444">Keloid</text>
<text x="189.60" y="116.50" text-anchor="middle" font-family="Liberation Sans" font-size="4.7" fill="#444">Formation</text>
<rect x="211.40" y="95.04" width="8" height="5.96" fill="#4472c4"/>
<text x="215.40" y="109.60" text-anchor="middle" font-family="Liberation Sans" font-size="4.7" fill="#444">Contact</text>
<text x="215.40" y="116.50" text-anchor="middle" font-family="Liberation Sans" font-size="4.7" fill="#444">Dermatitis</text>
<rect x="136.5" y="17.5" width="90.20" height="60.50" fill="#fff" stroke="#111" stroke-width="0.6"/>
<line x1="188.6" x2="188.6" y1="17.5" y2="78.0" stroke="#111" stroke-width="0.6"/>
<line x1="136.5" x2="226.7" y1="25.06" y2="25.06" stroke="#111" stroke-width="0.6"/>
<line x1="136.5" x2="226.7" y1="32.62" y2="32.62" stroke="#111" stroke-width="0.6"/>
<line x1="136.5" x2="226.7" y1="40.19" y2="40.19" stroke="#111" stroke-width="0.6"/>
<line x1="136.5" x2="226.7" y1="47.75" y2="47.75" stroke="#111" stroke-width="0.6"/>
<line x1="136.5" x2="226.7" y1="55.31" y2="55.31" stroke="#111" stroke-width="0.6"/>
<line x1="136.5" x2="226.7" y1="62.88" y2="62.88" stroke="#111" stroke-width="0.6"/>
<line x1="136.5" x2="226.7" y1="70.44" y2="70.44" stroke="#111" stroke-width="0.6"/>
<text x="162.55" y="23.18" text-anchor="middle" font-family="Liberation Sans" font-weight="bold" font-size="5.2" fill="#111">Infection Type</text>
<text x="207.65" y="23.18" text-anchor="middle" font-family="Liberation Sans" font-weight="bold" font-size="5.2" fill="#111">Incidence (n)</text>
<text x="139.80" y="30.74" font-family="Liberation Sans" font-size="5.4" fill="#111">Acute Otitis Media</text>
<text x="207.65" y="30.74" text-anchor="middle" font-family="Liberation Sans" font-size="5.4" fill="#111">12</text>
<text x="139.80" y="38.31" font-family="Liberation Sans" font-size="5.4" fill="#111">Otomycosis</text>
<text x="207.65" y="38.31" text-anchor="middle" font-family="Liberation Sans" font-size="5.4" fill="#111">2</text>
<text x="139.80" y="45.87" font-family="Liberation Sans" font-size="5.4" fill="#111">Sepsis</text>
<text x="207.65" y="45.87" text-anchor="middle" font-family="Liberation Sans" font-size="5.4" fill="#111">2</text>
<text x="139.80" y="53.43" font-family="Liberation Sans" font-size="5.4" fill="#111">Meningitis</text>
<text x="207.65" y="53.43" text-anchor="middle" font-family="Liberation Sans" font-size="5.4" fill="#111">1</text>
<text x="139.80" y="60.99" font-family="Liberation Sans" font-size="5.4" fill="#111">Mastoiditis</text>
<text x="207.65" y="60.99" text-anchor="middle" font-family="Liberation Sans" font-size="5.4" fill="#111">1</text>
<text x="139.80" y="68.56" font-family="Liberation Sans" font-size="5.4" fill="#111">Skin Abscess</text>
<text x="207.65" y="68.56" text-anchor="middle" font-family="Liberation Sans" font-size="5.4" fill="#111">1</text>
<text x="139.80" y="76.12" font-family="Liberation Sans" font-size="5.4" fill="#111">Wound Cellulitis</text>
<text x="207.65" y="76.12" text-anchor="middle" font-family="Liberation Sans" font-size="5.4" fill="#111">1</text>
</svg>
<div class="cap" style="left:552.2px;top:186.7px;line-height:9.5px">Figure 3: Prevalence of all postoperative complications among 101 ears. The
table shows the breakdown of the different types of infection.</div>

<!-- Right text -->
<div class="t" style="left:545.3px;top:208.3px;line-height:10.56px">24 of 101 ears had ≥ 1 postoperative complication yielding a
complication rate of 23.8%. Infection and dysgeusia were the two
most common complications occurring in 12.9% and 3.96% of ears,
respectively. AOM was the most common type of infection. There
were 4 ears with &gt;1 type of infection. 2 of 101 ears (1.98%)
required cochlear implant device removal.</div>

<div class="t" style="left:544px;top:288.3px;line-height:10.56px">Cochlear implantation is a relatively safe procedure that can greatly
improve hearing and overall quality of life in patients. There was an
overall complication rate of 23.8% with infection and dysgeusia
being the most common complications. Pending further statistical
analysis, further conclusions can made regarding the the correlation
between preoperative risk factors and complication rates.</div>

<div class="t" style="left:545px;top:372.1px;font-size:7.93px;line-height:8.9px">[1] Vincenti V, Baccia A, Guida M, Marra F, Bertoldi B, Bacciu S, et al.
Pediatric cochlear implantation: an update. Ital J Pediatr. 2014 Sep 2;40:72.</div>
<div class="t" style="left:545px;top:390px;font-size:7.93px;line-height:9.1px">[2] Loundon N, Blanchard M, Roger G, Denoyelle F, Garabedian EN.
Medical and surgical complications in pediatric cochlear implantation. Arch
Otolaryngol Head Neck Surg. 2010 Jan;136(1):12–15.</div>
<div class="t" style="left:545px;top:418px;font-size:7.93px;line-height:9.2px">[3]  Qiu J, Chen Y, Tan P, Chen J, Han Y, Gao L, et al. Complications and
clinical analysis of 416 consecutive cochlear implantations. Int J Pediatr
Otorhinolaryngol. 2011 Sep;75(9):1143–1146.</div>

</body></html>
